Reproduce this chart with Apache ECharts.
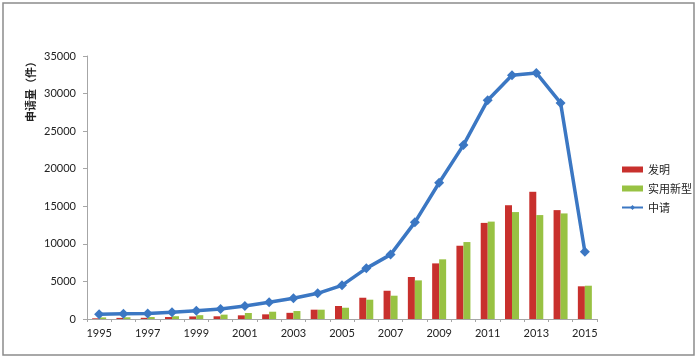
<!DOCTYPE html>
<html><head><meta charset="utf-8">
<script src="https://cdn.jsdelivr.net/npm/echarts@6/dist/echarts.min.js"></script>
<style>html,body{margin:0;padding:0;background:#fff}#c{width:697px;height:360px}</style>
</head><body><div id="c"></div>
<script>
const years = ['1995','1996','1997','1998','1999','2000','2001','2002','2003','2004','2005','2006','2007','2008','2009','2010','2011','2012','2013','2014','2015'];
const invention = [90,150,160,260,340,360,490,620,820,1240,1730,2830,3760,5590,7400,9750,12790,15140,16930,14490,4350];
const utility = [210,230,260,370,510,580,800,970,1060,1240,1500,2570,3100,5140,7940,10240,12960,14230,13830,14050,4430];
const applications = [620,700,720,890,1100,1330,1730,2220,2750,3420,4480,6740,8570,12860,18130,23140,29120,32450,32750,28760,8950];
const yTicks = {min:0, max:35000, interval:5000};
const seriesNames = ['发明','实用新型','中请'];
const yName = '申请量（件）';

const chart = echarts.init(document.getElementById('c'));
const fontNum = 'Lato, "Liberation Sans", sans-serif';
const fontCJK = '"Noto Sans CJK SC", sans-serif';
chart.setOption({
  animation:false,
  backgroundColor:'#fff',
  graphic:[
    {type:'rect',shape:{x:3,y:3,width:691,height:352},style:{fill:'none',stroke:'#8c8c8c',lineWidth:1.5},z:-1},
    {type:'text',x:31,y:89,rotation:Math.PI/2,style:{text:yName,font:'bold 11px "Noto Sans CJK SC", sans-serif',fill:'#222',align:'center',verticalAlign:'middle'}}
  ],
  grid:{left:87,right:100,top:56,bottom:41},
  legend:{
    orient:'vertical', left:616, top:159, itemGap:8, itemWidth:21, itemHeight:6,
    textStyle:{fontFamily:fontCJK,fontSize:11,color:'#222'},
    data:[{name:seriesNames[0],icon:'rect'},{name:seriesNames[1],icon:'rect'},{name:seriesNames[2]}]
  },
  xAxis:{
    type:'category', data:years, boundaryGap:true,
    axisLine:{lineStyle:{color:'#a6a6a6',width:1}},
    axisTick:{show:true,interval:0,length:3,lineStyle:{color:'#a6a6a6'}},
    axisLabel:{interval:1,margin:9,fontFamily:fontNum,fontSize:11,color:'#222'}
  },
  yAxis:{
    type:'value', min:yTicks.min, max:yTicks.max, interval:yTicks.interval,
    axisLine:{show:true,lineStyle:{color:'#a6a6a6'}},
    axisTick:{show:true,length:4,lineStyle:{color:'#a6a6a6'}},
    splitLine:{show:false},
    axisLabel:{margin:11,fontFamily:fontNum,fontSize:11,color:'#222',formatter:v=>String(v)}
  },
  series:[
    {name:seriesNames[0],type:'bar',data:invention,barWidth:7,barGap:'0%',itemStyle:{color:'#C8302D'}},
    {name:seriesNames[1],type:'bar',data:utility,barWidth:7,barGap:'0%',itemStyle:{color:'#98C243'}},
    {name:seriesNames[2],type:'line',data:applications,symbol:'diamond',symbolSize:10,
     lineStyle:{color:'#3B77C3',width:3.5},itemStyle:{color:'#3B77C3'},z:5}
  ]
});
</script></body></html>
